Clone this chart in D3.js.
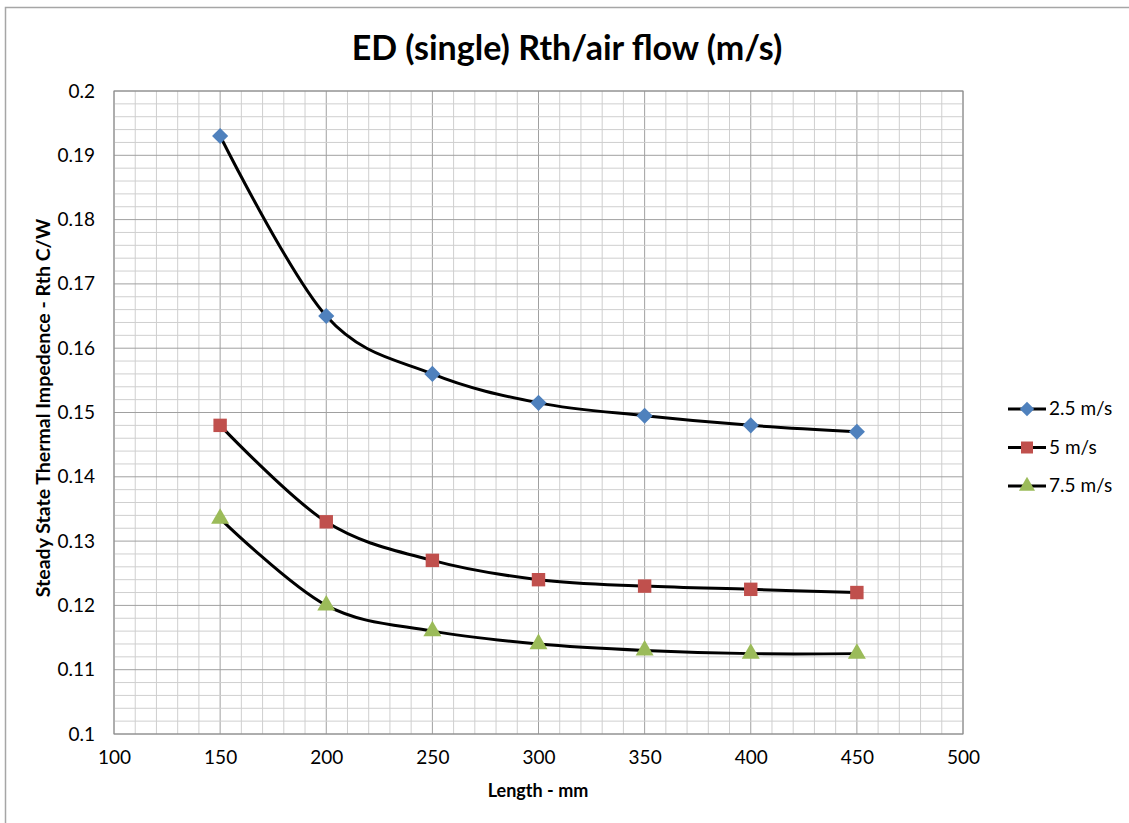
<!DOCTYPE html>
<html>
<head>
<meta charset="utf-8">
<script src="https://cdn.jsdelivr.net/npm/d3@7"></script>
<style>
  body { margin: 0; background: #fff; }
  svg text { font-family: Lato, "Open Sans", sans-serif; fill: #000; }
</style>
</head>
<body>
<svg id="chart" width="1129" height="823"></svg>
<script>
const lengths = [150, 200, 250, 300, 350, 400, 450];
const flow25 = [0.193, 0.165, 0.156, 0.1515, 0.1495, 0.148, 0.147];
const flow5 = [0.148, 0.133, 0.127, 0.124, 0.123, 0.1225, 0.122];
const flow75 = [0.1335, 0.120, 0.116, 0.114, 0.113, 0.1125, 0.1125];
const seriesNames = ["2.5 m/s", "5 m/s", "7.5 m/s"];
const xTicks = [100, 150, 200, 250, 300, 350, 400, 450, 500];
const yTicks = [0.1, 0.11, 0.12, 0.13, 0.14, 0.15, 0.16, 0.17, 0.18, 0.19, 0.2];

// square diamond like Excel's marker (not the tall d3 one)
const diamond = {
    draw(ctx, size) {
        const r = Math.sqrt(size / 2);
        ctx.moveTo(0, -r); ctx.lineTo(r, 0); ctx.lineTo(0, r); ctx.lineTo(-r, 0); ctx.closePath();
    }
};

const series = [
    { name: seriesNames[0], values: flow25, color: "#4f81bd", shape: diamond, size: 130 },
    { name: seriesNames[1], values: flow5, color: "#c0504d", shape: d3.symbolSquare, size: 180 },
    { name: seriesNames[2], values: flow75, color: "#9bbb59", shape: d3.symbolTriangle, size: 140 }
];

const svg = d3.select("#chart");

// outer chart border (cut off at right/bottom like the original)
svg.append("rect")
    .attr("x", 5.5).attr("y", 7.5)
    .attr("width", 1140).attr("height", 830)
    .attr("fill", "none").attr("stroke", "#a6a6a6").attr("stroke-width", 1.5);

const x = d3.scaleLinear().domain([100, 500]).range([114, 963]);
const y = d3.scaleLinear().domain([0.1, 0.2]).range([734, 91]);

// grid: minor every 10 mm / 0.002, major every 50 mm / 0.01
const g = svg.append("g");
g.selectAll("line.v")
    .data(d3.range(100, 501, 10))
  .enter().append("line")
    .attr("x1", d => x(d)).attr("x2", d => x(d))
    .attr("y1", y(0.1)).attr("y2", y(0.2))
    .attr("stroke", d => d % 50 === 0 ? "#a0a0a0" : "#cfcfcf")
    .attr("stroke-width", 1);
g.selectAll("line.h")
    .data(d3.range(0, 51).map(i => 0.1 + i * 0.002))
  .enter().append("line")
    .attr("x1", x(100)).attr("x2", x(500))
    .attr("y1", d => y(d)).attr("y2", d => y(d))
    .attr("stroke", (d, i) => i % 5 === 0 ? "#a0a0a0" : "#cfcfcf")
    .attr("stroke-width", 1);

svg.append("rect")
    .attr("x", x(100)).attr("y", y(0.2))
    .attr("width", x(500) - x(100)).attr("height", y(0.1) - y(0.2))
    .attr("fill", "none").attr("stroke", "#8c8c8c").attr("stroke-width", 1);

// axes
const xAxis = svg.append("g")
    .attr("transform", `translate(0,${y(0.1)})`)
    .call(d3.axisBottom(x).tickValues(xTicks).tickSize(0).tickPadding(17).tickFormat(d3.format("d")));
xAxis.select(".domain").remove();
xAxis.selectAll("text").style("font-size", "19px").style("font-family", "Lato, sans-serif");

const yAxis = svg.append("g")
    .attr("transform", `translate(${x(100)},0)`)
    .call(d3.axisLeft(y).tickValues(yTicks).tickSize(0).tickPadding(19).tickFormat(d => +d.toFixed(2)));
yAxis.select(".domain").remove();
yAxis.selectAll("text").style("font-size", "19px").style("font-family", "Lato, sans-serif");

// titles
svg.append("text")
    .attr("x", 567).attr("y", 60)
    .attr("text-anchor", "middle")
    .style("font-size", "34px").style("font-weight", "bold")
    .text("ED (single)  Rth/air flow (m/s)");

svg.append("text")
    .attr("x", 538).attr("y", 797)
    .attr("text-anchor", "middle")
    .style("font-size", "18px").style("font-weight", "bold")
    .text("Length - mm");

svg.append("text")
    .attr("transform", "translate(50,408) rotate(-90)")
    .attr("text-anchor", "middle")
    .style("font-size", "19.5px").style("font-weight", "bold")
    .text("Steady State Thermal Impedence - Rth C/W");

// lines
const line = d3.line()
    .x((d, i) => x(lengths[i]))
    .y(d => y(d))
    .curve(d3.curveCatmullRom.alpha(0));

series.forEach(s => {
    svg.append("path")
        .datum(s.values)
        .attr("d", line)
        .attr("fill", "none")
        .attr("stroke", "#000")
        .attr("stroke-width", 3);
});

series.forEach(s => {
    svg.selectAll(null)
        .data(s.values)
      .enter().append("path")
        .attr("transform", (d, i) => `translate(${x(lengths[i])},${y(d)})`)
        .attr("d", d3.symbol().type(s.shape).size(s.size))
        .attr("fill", s.color);
});

// legend
const legend = svg.append("g");
series.forEach((s, i) => {
    const ly = 409 + i * 38.5;
    legend.append("line")
        .attr("x1", 1008).attr("x2", 1046)
        .attr("y1", ly).attr("y2", ly)
        .attr("stroke", "#000").attr("stroke-width", 3);
    legend.append("path")
        .attr("transform", `translate(1027,${ly})`)
        .attr("d", d3.symbol().type(s.shape).size(s.size * 0.8))
        .attr("fill", s.color);
    legend.append("text")
        .attr("x", 1049).attr("y", ly + 6)
        .style("font-size", "19px")
        .text(s.name);
});
</script>
</body>
</html>
